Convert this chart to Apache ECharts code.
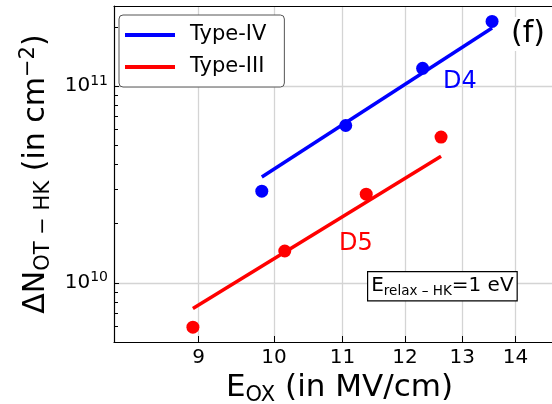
<!DOCTYPE html>
<html>
<head>
<meta charset="utf-8">
<script src="https://cdn.jsdelivr.net/npm/echarts@6/dist/echarts.min.js"></script>
<style>
  html, body { margin: 0; padding: 0; background: #fff; }
  #chart { width: 552px; height: 404px; }
</style>
</head>
<body>
<div id="chart"></div>
<script>
// Axis ticks
const fieldTicks = [9, 10, 11, 12, 13, 14];
const densityTicks = [1e10, 1e11];
const densityMinorTicks = [6e9, 7e9, 8e9, 9e9, 2e10, 3e10, 4e10, 5e10, 6e10, 7e10, 8e10, 9e10, 2e11];

// Type-IV (D4): measured points and power-law fit
const typeIVField = [9.83, 11.05, 12.30, 13.55];
const typeIVDensity = [2.92e10, 6.3e10, 1.23e11, 2.13e11];
const typeIVFitField = [9.83, 13.55];
const typeIVFitDensity = [3.45e10, 1.97e11];

// Type-III (D5): measured points and power-law fit
const typeIIIField = [8.93, 10.15, 11.37, 12.62];
const typeIIIDensity = [5.95e9, 1.45e10, 2.82e10, 5.5e10];
const typeIIIFitField = [8.93, 12.62];
const typeIIIFitDensity = [7.4e9, 4.4e10];

const FONT = 'DejaVu Sans';
const BLUE = '#0000ff';
const RED = '#ff0000';
const FIELD_MIN = 8, FIELD_MAX = 15;
const DENSITY_MIN = 5e9, DENSITY_MAX = 2.55e11;

const pairs = (xs, ys) => xs.map((x, i) => [x, ys[i]]);

const chart = echarts.init(document.getElementById('chart'), null, { renderer: 'canvas' });

const option = {
  animation: false,
  backgroundColor: '#fff',
  textStyle: { fontFamily: FONT },
  // the plot frame runs past the right edge of the canvas
  grid: { left: 114, top: 6, bottom: 62, right: -13, show: false, outerBoundsMode: 'none', containLabel: false },
  legend: {
    orient: 'vertical', left: 119, top: 15,
    data: [{ name: 'Type-IV', icon: 'rect' }, { name: 'Type-III', icon: 'rect' }],
    itemWidth: 50, itemHeight: 4, itemGap: 10,
    padding: [9, 18, 9, 6],
    borderColor: '#555', borderWidth: 1, borderRadius: 4,
    backgroundColor: '#fff',
    selectedMode: false,
    textStyle: { fontFamily: FONT, fontSize: 21, color: '#000', lineHeight: 22, padding: [0, 0, 0, 10] }
  },
  xAxis: [{
    type: 'log', min: FIELD_MIN, max: FIELD_MAX,
    name: '{b|E}{s|OX}{b| (in MV/cm)}',
    nameLocation: 'middle', nameGap: 28,
    nameTextStyle: {
      rich: {
        b: { fontFamily: FONT, fontSize: 31, color: '#000', lineHeight: 36 },
        s: { fontFamily: FONT, fontSize: 21, color: '#000', lineHeight: 36, verticalAlign: 'bottom' }
      }
    },
    axisLine: { show: true, lineStyle: { color: '#000', width: 1.2 } },
    axisTick: { show: true, inside: true, length: 6, customValues: fieldTicks, lineStyle: { color: '#000', width: 1 } },
    axisLabel: { show: true, customValues: fieldTicks, margin: 6, fontFamily: FONT, fontSize: 20, color: '#000' },
    splitLine: { show: true, lineStyle: { color: '#d4d4d4', width: 1.3 } },
    minorTick: { show: false }, minorSplitLine: { show: false }
  }, {
    // top frame line
    type: 'log', min: FIELD_MIN, max: FIELD_MAX, position: 'top',
    axisLine: { show: true, onZero: false, lineStyle: { color: '#000', width: 1.2 } },
    axisTick: { show: false }, axisLabel: { show: false }, splitLine: { show: false }
  }],
  yAxis: [{
    type: 'log', min: DENSITY_MIN, max: DENSITY_MAX,
    name: '{b|ΔN}{s|OT − HK}{b| (in cm}{p|−2}{b|)}',
    nameLocation: 'middle', nameGap: 56, nameRotate: 90,
    nameTextStyle: {
      rich: {
        b: { fontFamily: FONT, fontSize: 30, color: '#000', lineHeight: 36 },
        s: { fontFamily: FONT, fontSize: 21, color: '#000', lineHeight: 36, verticalAlign: 'bottom' },
        p: { fontFamily: FONT, fontSize: 21, color: '#000', lineHeight: 36, verticalAlign: 'top' }
      }
    },
    axisLine: { show: true, lineStyle: { color: '#000', width: 1.2 } },
    axisTick: { show: true, inside: true, length: 5, customValues: densityTicks, lineStyle: { color: '#000', width: 1 } },
    axisLabel: {
      show: true, customValues: densityTicks, margin: 6,
      formatter: v => '{b|10}{p|' + Math.round(Math.log10(v)) + '}',
      rich: {
        b: { fontFamily: FONT, fontSize: 20, color: '#000', lineHeight: 24 },
        p: { fontFamily: FONT, fontSize: 14, color: '#000', lineHeight: 24, verticalAlign: 'top' }
      }
    },
    splitLine: { show: true, lineStyle: { color: '#d4d4d4', width: 1.3 } },
    minorTick: { show: false }, minorSplitLine: { show: false }
  }, {
    // minor decade ticks
    type: 'log', min: DENSITY_MIN, max: DENSITY_MAX, position: 'left', offset: 0,
    axisLine: { show: false },
    axisTick: { show: true, inside: true, length: 4, customValues: densityMinorTicks, lineStyle: { color: '#000', width: 1 } },
    axisLabel: { show: false },
    splitLine: { show: false }
  }],
  series: [
    {
      name: 'Type-IV', type: 'line', data: pairs(typeIVFitField, typeIVFitDensity),
      showSymbol: false, symbol: 'none', lineStyle: { color: BLUE, width: 3.5 }, itemStyle: { color: BLUE }, z: 3
    },
    {
      name: 'Type-III', type: 'line', data: pairs(typeIIIFitField, typeIIIFitDensity),
      showSymbol: false, symbol: 'none', lineStyle: { color: RED, width: 3.5 }, itemStyle: { color: RED }, z: 3
    },
    {
      name: 'Type-IV', type: 'scatter', data: pairs(typeIVField, typeIVDensity),
      symbol: 'circle', symbolSize: 13, itemStyle: { color: BLUE, opacity: 1 }, z: 4
    },
    {
      name: 'Type-III', type: 'scatter', data: pairs(typeIIIField, typeIIIDensity),
      symbol: 'circle', symbolSize: 13, itemStyle: { color: RED, opacity: 1 }, z: 4
    }
  ],
  graphic: [
    {
      type: 'text', left: 508, top: 17, z: 100,
      style: { text: '(f)', fontFamily: FONT, fontSize: 30, fill: '#000', backgroundColor: '#fff', padding: [2, 3, 2, 3] }
    },
    {
      type: 'text', left: 443, top: 70, z: 100,
      style: { text: 'D4', fontFamily: FONT, fontSize: 24, fill: BLUE }
    },
    {
      type: 'text', left: 339, top: 232, z: 100,
      style: { text: 'D5', fontFamily: FONT, fontSize: 24, fill: RED }
    },
    {
      type: 'text', left: 367, top: 271, z: 100,
      style: {
        text: '{b|E}{s|relax – HK}{b|=1 eV}',
        backgroundColor: '#fff', borderColor: '#000', borderWidth: 1.2,
        padding: [2, 3, 2, 3],
        rich: {
          b: { fontFamily: FONT, fontSize: 20, fill: '#000', lineHeight: 24 },
          s: { fontFamily: FONT, fontSize: 13.5, fill: '#000', lineHeight: 24, verticalAlign: 'bottom' }
        }
      }
    }
  ]
};

chart.setOption(option);
</script>
</body>
</html>
